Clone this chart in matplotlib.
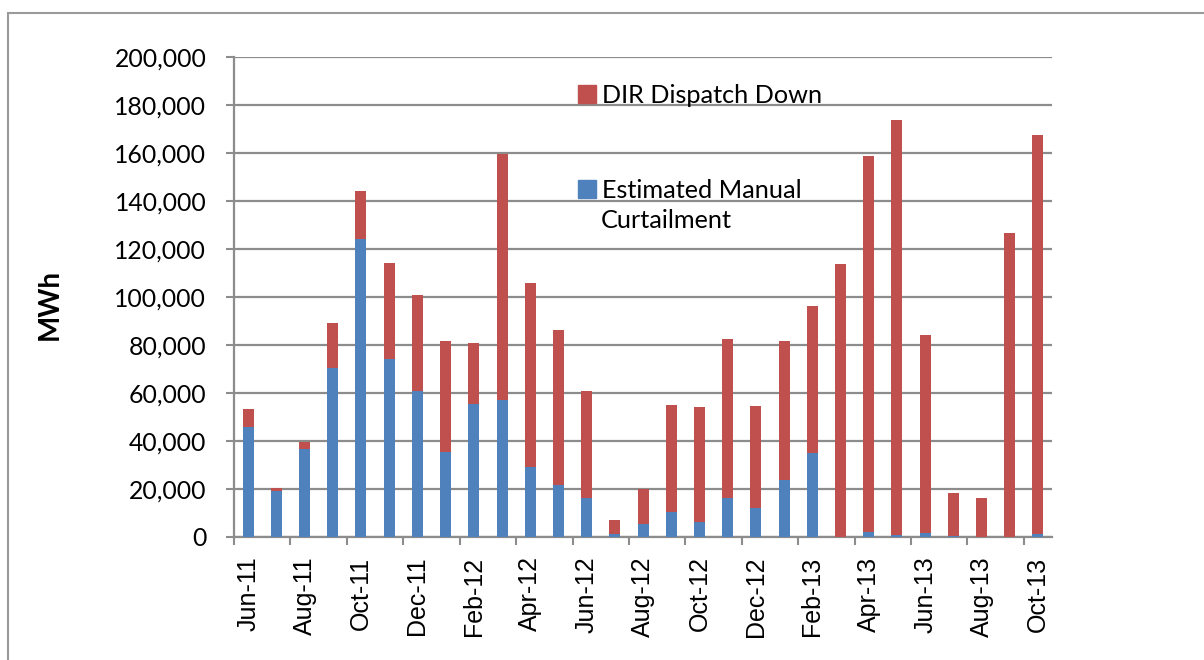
import matplotlib
matplotlib.use("Agg")
import matplotlib.pyplot as plt
from matplotlib.patches import Rectangle, Patch
from matplotlib.ticker import FuncFormatter, FixedLocator
import numpy as np

# monthly curtailment, thousand MWh
months = ["Jun-11", "Jul-11", "Aug-11", "Sep-11", "Oct-11", "Nov-11", "Dec-11",
          "Jan-12", "Feb-12", "Mar-12", "Apr-12", "May-12", "Jun-12", "Jul-12",
          "Aug-12", "Sep-12", "Oct-12", "Nov-12", "Dec-12", "Jan-13", "Feb-13",
          "Mar-13", "Apr-13", "May-13", "Jun-13", "Jul-13", "Aug-13", "Sep-13",
          "Oct-13"]
manual = [45.9, 19.2, 36.7, 70.4, 124.2, 74.3, 60.8, 35.3, 55.4, 57.2, 29.2,
          21.8, 16.3, 1.4, 5.3, 10.6, 6.1, 16.4, 12.0, 23.7, 34.8,
          0.0, 2.2, 0.8, 1.7, 0.5, 0.0, 0.0, 1.1]
dispatch_down = [7.5, 1.4, 2.8, 18.6, 19.9, 39.8, 39.9, 46.2, 25.5, 102.5, 76.5,
                 64.4, 44.6, 5.6, 14.5, 44.5, 48.1, 65.9, 42.5, 58.1, 61.6,
                 113.9, 156.5, 173.0, 82.3, 17.9, 16.1, 126.6, 166.2]

blue = "#4F81BD"
red = "#C0504D"
grid_col = "#8C8C8C"

manual = np.array(manual) * 1000
dispatch_down = np.array(dispatch_down) * 1000
x = np.arange(len(months))

fig = plt.figure(figsize=(12.04, 6.6), dpi=100)
ax = fig.add_axes([0.1944, 0.1864, 0.6794, 0.7272])

ax.bar(x, manual, width=0.39, color=blue, zorder=3)
ax.bar(x, dispatch_down, width=0.39, bottom=manual, color=red, zorder=3)

ax.set_xlim(-0.5, len(months) - 0.5)
ax.set_ylim(0, 200000)
ax.set_yticks(np.arange(0, 200001, 20000))
ax.yaxis.set_major_formatter(FuncFormatter(lambda v, p: "{:,.0f}".format(v)))
ax.grid(axis="y", color=grid_col, linewidth=1.6, zorder=0)

# ticks between every second month, labels on every second month
ax.xaxis.set_major_locator(FixedLocator(np.arange(-0.5, len(months) - 1, 2)))
ax.xaxis.set_major_formatter(FuncFormatter(lambda v, p: ""))
ax.xaxis.set_minor_locator(FixedLocator(x[::2]))
ax.set_xticklabels(months[::2], minor=True, rotation=90,
                   fontfamily="Liberation Sans", fontsize=18)
ax.tick_params(axis="x", which="major", length=6, width=1.5, color=grid_col, direction="out")
ax.tick_params(axis="x", which="minor", length=0, pad=14)
ax.tick_params(axis="y", length=6, width=1.5, color=grid_col, pad=14,
               labelsize=17.8, labelfontfamily="Lato")

for s in ["top", "right"]:
    ax.spines[s].set_visible(False)
for s in ["left", "bottom"]:
    ax.spines[s].set_color(grid_col)
    ax.spines[s].set_linewidth(1.6)

ax.set_ylabel("MWh", fontfamily="Lato", fontweight="bold", fontsize=20)
ax.yaxis.set_label_coords(-0.209, 0.485)

handles = [Patch(color=red), Patch(color=blue)]
leg = fig.legend(handles, ["DIR Dispatch Down", "Estimated Manual"],
                 loc="upper left", bbox_to_anchor=(578 / 1204, 1 - 84 / 660),
                 frameon=False, borderpad=0, borderaxespad=0,
                 handlelength=0.7, handleheight=0.7, handletextpad=0.26,
                 labelspacing=2.85, prop={"family": "Lato", "size": 18.2})
fig.text(601 / 1204, 1 - 221 / 660, "Curtailment", fontfamily="Lato",
         fontsize=18.2, va="center", ha="left")

# outer frame of the figure
fig.patches.append(Rectangle((8 / 1204, -0.1), 1.2, 1.1 - 12.5 / 660,
                             transform=fig.transFigure, fill=False,
                             edgecolor="#9A9A9A", linewidth=1.5))

fig.savefig("out.png", dpi=100)
